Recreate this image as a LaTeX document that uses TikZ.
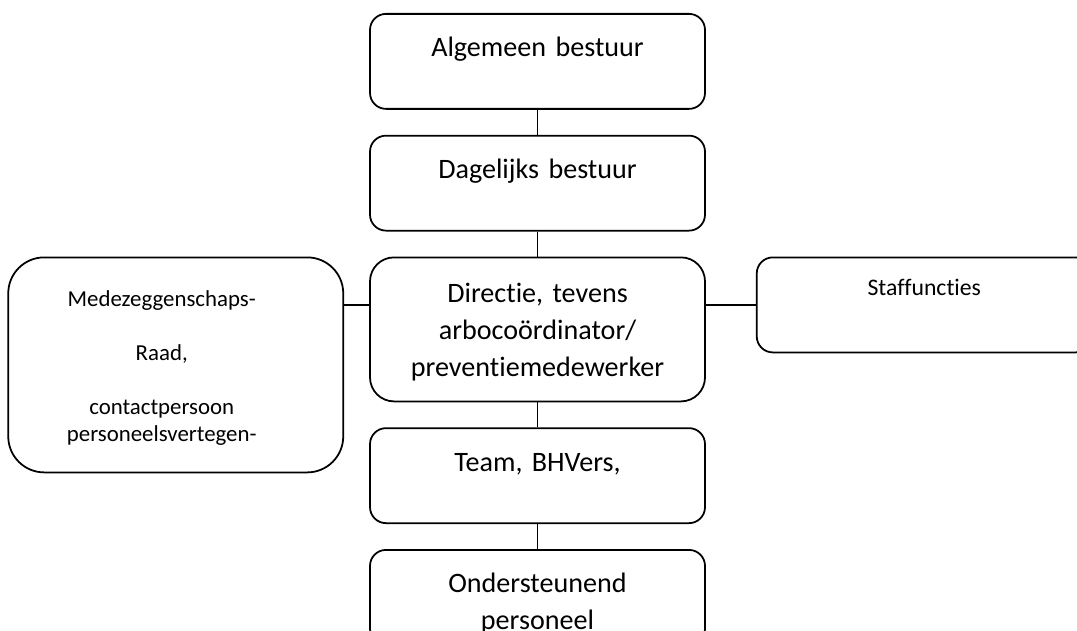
\documentclass[tikz,border=0pt]{standalone}
\usepackage{fontspec}
\setmainfont{Carlito}[Ligatures=CommonOff]
\usetikzlibrary{positioning}

\begin{document}
\begin{tikzpicture}[
    orgbox/.style={rectangle, draw, line width=1pt, rounded corners=0.32cm, inner sep=0pt, text width=6.7cm, align=center, font=\fontsize{16}{21}\selectfont, text height=0.86cm, text depth=1.04cm},
    sidebox/.style={orgbox, font=\fontsize{13}{15.4}\selectfont},
    link/.style={draw, line width=0.9pt}
]
\useasboundingbox (0,0) rectangle (21.54,-12.62);
\clip (0,0) rectangle (21.54,-12.62);

% Hierarchy
\node[orgbox, anchor=north] (algemeen) at (10.75,-0.26) {Algemeen bestuur};
\node[orgbox, below=0.5cm of algemeen] (dagelijks) {Dagelijks bestuur};
\node[orgbox, below=0.5cm of dagelijks, rounded corners=0.48cm, text height=0.9cm, text depth=1.98cm] (directie) {Directie, tevens\\arbocoördinator/\\preventiemedewerker};
\node[orgbox, below=0.5cm of directie] (team) {Team, BHVers,};
\node[orgbox, below=0.5cm of team] (ondersteunend) {Ondersteunend\\personeel};

% Side boxes
\node[sidebox, left=0.5cm of directie.north west, anchor=north east, rounded corners=0.72cm, text height=0.98cm, text depth=3.32cm] (mr) {\hspace*{-0.56cm}\parbox[t]{6.7cm}{\centering Medezeggenschaps-\\[15.4pt]Raad,\\[15.4pt]contactpersoon\\personeelsvertegen-}};
\node[sidebox, right=1cm of directie.north east, anchor=north west, font=\fontsize{13.5}{16}\selectfont, text height=0.76cm, text depth=1.14cm] (staf) {Staffuncties};

% Connections
\draw[link] (algemeen.south) -- (dagelijks.north);
\draw[link] (dagelijks.south) -- (directie.north);
\draw[link] (directie.south) -- (team.north);
\draw[link] (team.south) -- (ondersteunend.north);
\draw[link] (directie.west |- staf.west) -- (mr.east |- staf.west);
\draw[link] (directie.east |- staf.west) -- (staf.west);

\end{tikzpicture}
\end{document}
